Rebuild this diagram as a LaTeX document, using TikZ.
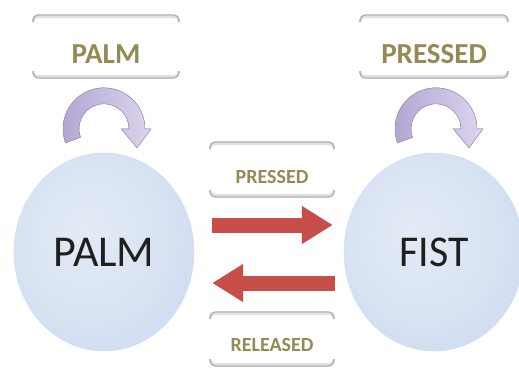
\documentclass[tikz,border=0pt]{standalone}
\usepackage{fontspec}
\setmainfont{Carlito}
\usetikzlibrary{shapes.geometric,arrows.meta,calc}

\definecolor{labelolive}{RGB}{148,138,84}
\definecolor{boxline}{RGB}{170,170,170}
\definecolor{boxshade}{RGB}{225,225,225}
\definecolor{bubbleedge}{RGB}{168,194,230}
\definecolor{bubblemid}{RGB}{202,217,239}
\definecolor{bubblecore}{RGB}{228,235,246}
\definecolor{looplight}{RGB}{220,213,236}
\definecolor{loopdark}{RGB}{176,164,208}
\definecolor{loopedge}{RGB}{160,148,196}
\definecolor{arrowred}{RGB}{200,78,74}

% soft sphere-like fill for the two states
\pgfdeclareradialshading{bubble}{\pgfpoint{-6bp}{6bp}}{%
  color(0bp)=(bubblecore); color(18bp)=(bubblecore!60!bubblemid);
  color(38bp)=(bubblemid); color(50bp)=(bubbleedge)}

% top and bottom rims of a label box around a text node:
% #1 node, #2 half width, #3 rim above centre, #4 rim below centre
\newcommand\tagframe[4]{%
  \draw[tagshade] ($(#1.center)+(-#2,-#3+7)$) -- ($(#1.center)+(-#2,-#3+1.8)$) -- ($(#1.center)+(#2,-#3+1.8)$) -- ($(#1.center)+(#2,-#3+7)$);
  \draw[tagline] ($(#1.center)+(-#2,-#3+7)$) -- ($(#1.center)+(-#2,-#3)$) -- ($(#1.center)+(#2,-#3)$) -- ($(#1.center)+(#2,-#3+7)$);
  \draw[tagshade] ($(#1.center)+(-#2,#4-7)$) -- ($(#1.center)+(-#2,#4-1.8)$) -- ($(#1.center)+(#2,#4-1.8)$) -- ($(#1.center)+(#2,#4-7)$);
  \draw[tagline] ($(#1.center)+(-#2,#4-7)$) -- ($(#1.center)+(-#2,#4)$) -- ($(#1.center)+(#2,#4)$) -- ($(#1.center)+(#2,#4-7)$);
}

% curved self-loop arrow above a state, around centre #1
\newcommand\selfloop[1]{%
  \filldraw[loopstyle] ($(#1)+(160:41)$) arc[start angle=160,end angle=360,radius=41]
    -- ($(#1)+(47,0)$) -- ($(#1)+(33,19)$) -- ($(#1)+(17,0)$) -- ($(#1)+(25,0)$)
    arc[start angle=360,end angle=160,radius=25] -- cycle;
}

\begin{document}
\begin{tikzpicture}[x=1pt,y=-1pt,
  state/.style={ellipse, minimum width=180pt, minimum height=198pt,
    shading=bubble, draw=bubbleedge!60, line width=0.4pt,
    font=\fontsize{44}{44}\selectfont, text=black!88, inner sep=0pt},
  tag/.style={font=\bfseries\fontsize{29}{29}\selectfont, text=labelolive, inner sep=0pt},
  smalltag/.style={font=\bfseries\fontsize{20}{20}\selectfont, text=labelolive, inner sep=0pt},
  tagline/.style={draw=boxline, line width=1.2pt, rounded corners=5pt},
  tagshade/.style={draw=boxshade, line width=2.4pt, rounded corners=5pt},
  loopstyle/.style={left color=loopdark, right color=looplight,
    draw=loopedge, line width=0.5pt, line join=round},
  flow/.style={arrowred, line width=15pt, -{Triangle[length=31pt,width=36pt]}}
]
\useasboundingbox (0,0) rectangle (519,368);

% states
\node[state] (palm) at (104,252) {PALM};
\node[state] (fist) at (434,252) {\scalebox{0.95}[1]{FIST}};

% self-loops with their labels
\coordinate (palmloop) at ([yshift=24pt]palm.north);
\coordinate (fistloop) at ([yshift=24pt,xshift=2pt]fist.north);
\selfloop{palmloop}
\selfloop{fistloop}

\node[tag] (palmlabel) at (106,54) {PALM};
\node[tag] (fistlabel) at (434,54) {PRESSED};
\tagframe{palmlabel}{73}{39}{24}
\tagframe{fistlabel}{74}{39}{24}

% transitions between the states
\draw[flow] ($(palm.east)+(18,-27)$) -- ($(fist.west)+(-11,-27)$);
\draw[flow] ($(fist.west)+(-9,31)$) -- ($(palm.east)+(18,31)$);

\node[smalltag] (presslabel) at (272,177) {PRESSED};
\node[smalltag] (releaselabel) at (272,345) {RELEASED};
\tagframe{presslabel}{62}{35}{20}
\tagframe{releaselabel}{62}{33}{21}
\end{tikzpicture}
\end{document}
